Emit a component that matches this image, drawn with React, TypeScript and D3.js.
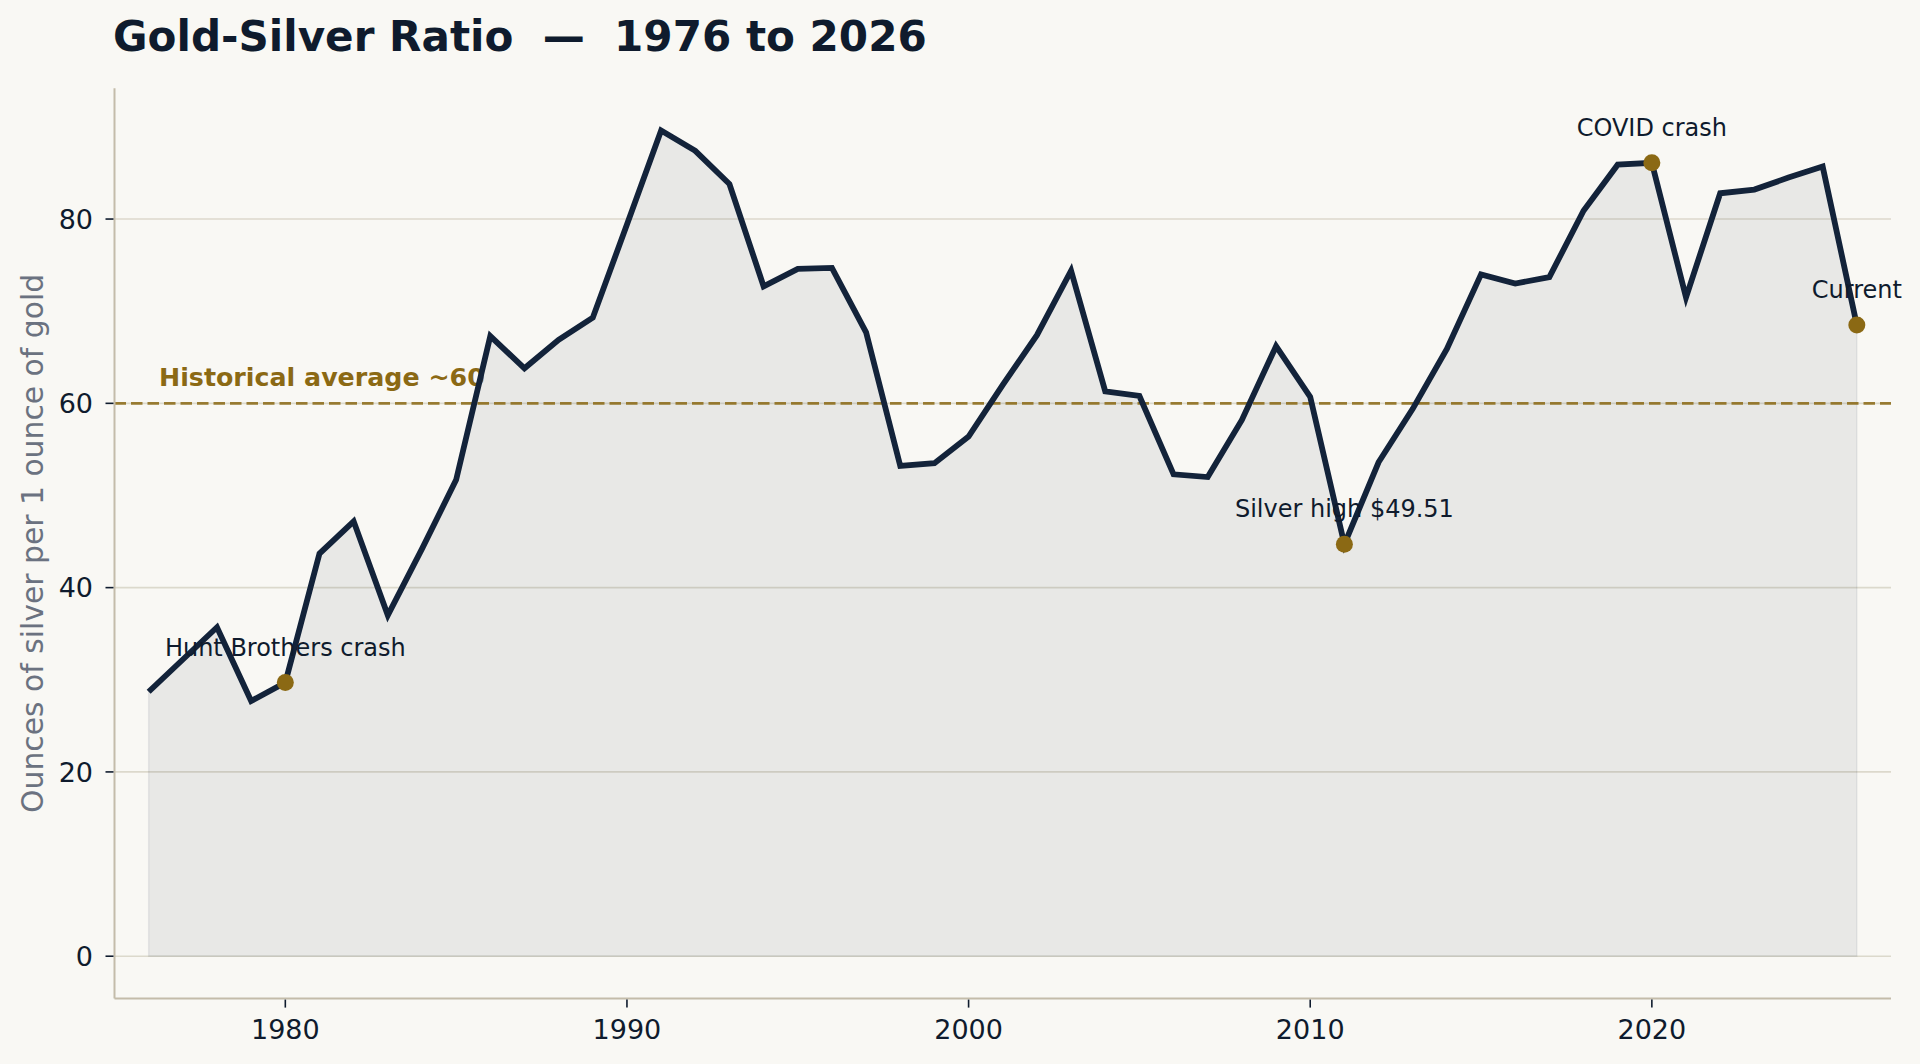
import React, { useEffect } from "react";
import * as d3 from "d3";

const years: number[] = [
  1976, 1977, 1978, 1979, 1980, 1981, 1982, 1983, 1984, 1985,
  1986, 1987, 1988, 1989, 1990, 1991, 1992, 1993, 1994, 1995,
  1996, 1997, 1998, 1999, 2000, 2001, 2002, 2003, 2004, 2005,
  2006, 2007, 2008, 2009, 2010, 2011, 2012, 2013, 2014, 2015,
  2016, 2017, 2018, 2019, 2020, 2021, 2022, 2023, 2024, 2025, 2026,
];
const ratio: number[] = [
  28.7, 32.2, 35.7, 27.7, 29.7, 43.7, 47.2, 37.0, 44.2, 51.7,
  67.3, 63.8, 66.9, 69.3, 79.4, 89.6, 87.4, 83.8, 72.7, 74.6,
  74.7, 67.7, 53.2, 53.5, 56.4, 62.0, 67.4, 74.4, 61.3, 60.8,
  52.3, 52.0, 58.2, 66.2, 60.7, 44.7, 53.6, 59.4, 65.9, 74.0,
  73.0, 73.7, 80.9, 85.9, 86.1, 71.5, 82.8, 83.2, 84.5, 85.7, 68.5,
];
const yTicks: number[] = [0, 20, 40, 60, 80];
const xTicks: number[] = [1980, 1990, 2000, 2010, 2020];
const annotationYears: number[] = [1980, 2011, 2020, 2026];
const annotationLabels: string[] = ["Hunt Brothers crash", "Silver high $49.51", "COVID crash", "Current"];
const historicalAverage = 60;
const titleText = "Gold-Silver Ratio  —  1976 to 2026";
const yLabel = "Ounces of silver per 1 ounce of gold";
const avgLabel = "Historical average ~60";

const W = 1920;
const H = 1064;
const left = 114.5;
const right = 1891;
const top = 88.2;
const bottom = 998.6;

const BG = "#f9f8f4";
const NAVY = "#13233a";
const TEXT = "#0f1b2d";
const GOLD = "#8b6914";
const GRID = "#dcd9cc";
const SPINE = "#c4bcaa";
const FONT = "DejaVu Sans, Verdana, sans-serif";

export default function App() {
  useEffect(() => {
    document.body.style.margin = "0";
    document.body.style.background = BG;
  }, []);

  const x = d3.scaleLinear().domain([1975, 2027]).range([left, right]);
  const y = d3.scaleLinear().domain([-4.6, 94.2]).range([bottom, top]);

  const data = years.map((yr, i) => ({ yr, v: ratio[i] }));
  const line = d3.line<{ yr: number; v: number }>().x((d) => x(d.yr)).y((d) => y(d.v));
  const area = d3
    .area<{ yr: number; v: number }>()
    .x((d) => x(d.yr))
    .y0(() => y(0))
    .y1((d) => y(d.v));

  return (
    <svg width={W} height={H} style={{ display: "block", background: BG }} fontFamily={FONT}>
      <rect x={0} y={0} width={W} height={H} fill={BG} />
      {yTicks.map((t) => (
        <line key={"g" + t} x1={left} x2={right} y1={y(t)} y2={y(t)} stroke={GRID} strokeWidth={1.6} />
      ))}
      <path d={area(data) || ""} fill={NAVY} fillOpacity={0.07} stroke={NAVY} strokeOpacity={0.07} strokeWidth={1.5} />
      <line
        x1={left}
        x2={right}
        y1={y(historicalAverage)}
        y2={y(historicalAverage)}
        stroke={GOLD}
        strokeOpacity={0.85}
        strokeWidth={2.8}
        strokeDasharray="11.5,5"
      />
      <text x={159} y={385.7} fill={GOLD} fontWeight="bold" fontSize={25.3} style={{ whiteSpace: "pre" }}>
        {avgLabel}
      </text>
      <path d={line(data) || ""} fill="none" stroke={NAVY} strokeWidth={5.8} strokeLinejoin="miter" strokeLinecap="butt" />
      {annotationYears.map((yr, i) => {
        const v = ratio[years.indexOf(yr)];
        return (
          <g key={"a" + yr}>
            <circle cx={x(yr)} cy={y(v)} r={8.5} fill={GOLD} />
            <text x={x(yr)} y={y(v) - 27} textAnchor="middle" fill={TEXT} fontSize={24} style={{ whiteSpace: "pre" }}>
              {annotationLabels[i]}
            </text>
          </g>
        );
      })}
      <line x1={left} x2={left} y1={top} y2={bottom} stroke={SPINE} strokeWidth={2} />
      <line x1={left} x2={right} y1={bottom} y2={bottom} stroke={SPINE} strokeWidth={2} />
      {yTicks.map((t) => (
        <g key={"y" + t}>
          <line x1={left - 9} x2={left - 1} y1={y(t)} y2={y(t)} stroke={TEXT} strokeWidth={1.6} />
          <text x={93} y={y(t)} dy="0.36em" textAnchor="end" fill={TEXT} fontSize={27}>
            {t}
          </text>
        </g>
      ))}
      {xTicks.map((t) => (
        <g key={"x" + t}>
          <line x1={x(t)} x2={x(t)} y1={bottom + 1} y2={bottom + 9} stroke={TEXT} strokeWidth={1.6} />
          <text x={x(t)} y={1039.3} textAnchor="middle" fill={TEXT} fontSize={27}>
            {t}
          </text>
        </g>
      ))}
      <text
        transform={`translate(43, ${(top + bottom) / 2}) rotate(-90)`}
        textAnchor="middle"
        fill="#6b7280"
        fontSize={29.8}
      >
        {yLabel}
      </text>
      <text x={113} y={51} fill={TEXT} fontWeight="bold" fontSize={42.1} style={{ whiteSpace: "pre" }}>
        {titleText}
      </text>
    </svg>
  );
}
